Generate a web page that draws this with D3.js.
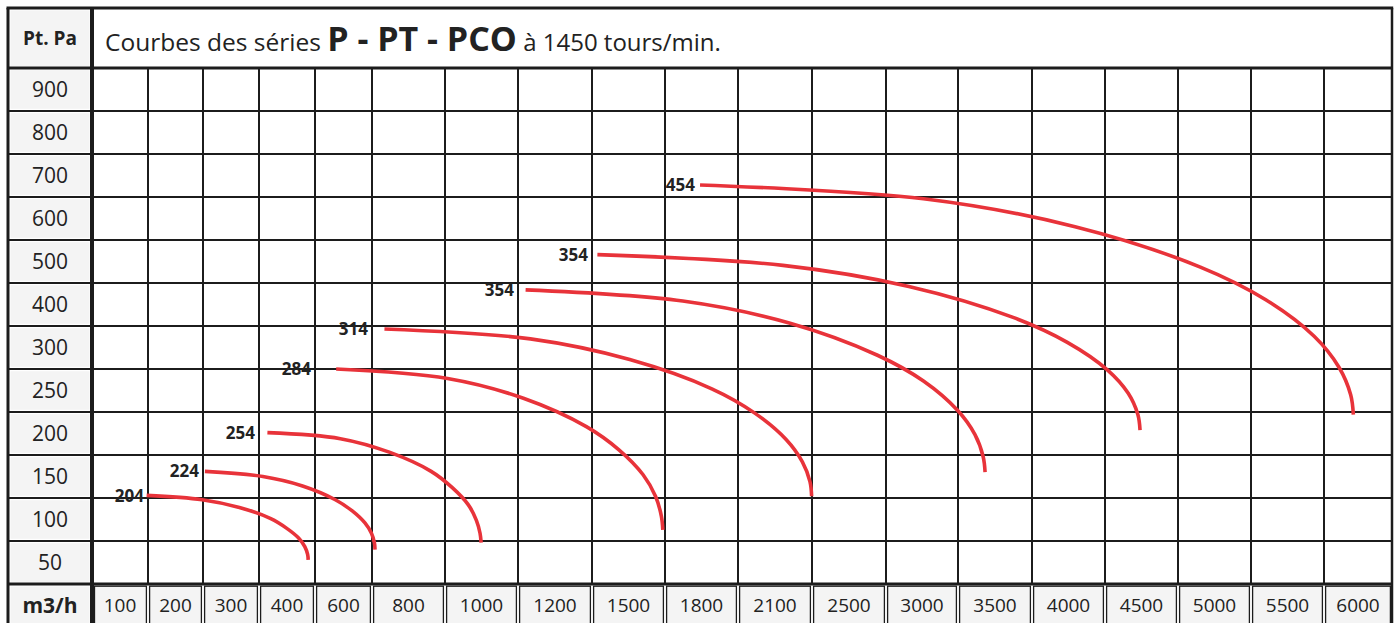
<!DOCTYPE html>
<html>
<head>
<meta charset="utf-8">
<script src="https://cdn.jsdelivr.net/npm/d3@7"></script>
<style>
  html, body { margin: 0; padding: 0; background: #ffffff; }
  svg { display: block; font-family: "Open Sans", "Noto Sans", sans-serif; }
</style>
</head>
<body>
<script>
// ---------- data ----------
const flowTicks = [100, 200, 300, 400, 600, 800, 1000, 1200, 1500, 1800, 2100, 2500, 3000, 3500, 4000, 4500, 5000, 5500, 6000];
const pressureTicks = [900, 800, 700, 600, 500, 400, 300, 250, 200, 150, 100, 50];
const seriesNames = ["204", "224", "254", "284", "314", "354", "354", "454"];

// each curve: [flow m3/h, pressure Pa]
const curve204 = [[148,128],[248,123],[315,114],[371,101],[399,90],[441,78.5],[463,68.5],[473,59.4],[475,53]];
const curve224 = [[253,156],[357,150],[455,139],[571,123],[627,110],[666,96],[686,84],[695,73],[697,65]];
const curve254 = [[365,201],[589,194],[743,178],[862,156],[920,137],[964,117],[986,99],[996,84],[999,73]];
const curve284 = [[574,275],[907,264],[1114,241],[1328,208],[1461,181],[1560,152],[1611,127],[1635,104],[1641,88]];
const curve314 = [[726,343],[1133,320],[1505,286],[1842,252],[2016,224],[2160,193],[2248,167],[2289,144],[2298,127]];
const curve354a = [[1120,434],[1723,408],[2177,357],[2695,291],[3010,261],[3243,227],[3362,199],[3419,173],[3432,155]];
const curve354b = [[1373,516],[2143,491],[2910,442],[3623,370],[3992,312],[4266,274],[4408,247],[4475,222],[4490,204]];
const curve454 = [[1794,678],[3010,646],[4045,581],[4903,487],[5351,411],[5689,326],[5865,277],[5948,245],[5967,222]];
const curves = [curve204, curve224, curve254, curve284, curve314, curve354a, curve354b, curve454];

// ---------- layout ----------
const W = 1398, H = 623;
const L = 8, LC = 92, T = 8, HB = 68, ROW_H = 43, R = 1392;
const colWidths = [56,55,56,56,57,73,73,74,73,73,74,74,72,74,73,73,73,73,68];
const GB = HB + ROW_H * pressureTicks.length;   // grid bottom
const LINE = "#1c1c1c", CELL = "#f4f4f4", RED = "#e8333a", TXT = "#222222";

const edges = [LC];
colWidths.forEach(w => edges.push(edges[edges.length - 1] + w));
const centers = colWidths.map((w, i) => edges[i] + w / 2);
const rowCenters = pressureTicks.map((d, i) => HB + ROW_H * (i + 0.5));

const x = d3.scaleLinear().domain(flowTicks).range(centers);
const y = d3.scaleLinear().domain(pressureTicks).range(rowCenters);

const svg = d3.select("body").append("svg").attr("width", W).attr("height", H);
svg.append("rect").attr("width", W).attr("height", H).attr("fill", "#fff");

// label column cells (header + value rows + bottom)
svg.append("rect").attr("x", L + 2.5).attr("y", T + 2.5).attr("width", LC - L - 5).attr("height", HB - T - 4.5).attr("fill", CELL);
svg.selectAll("rect.ycell").data(pressureTicks).join("rect").attr("class", "ycell")
  .attr("x", L + 2.5).attr("y", (d, i) => HB + ROW_H * i + 2.2)
  .attr("width", LC - L - 5).attr("height", ROW_H - 4.4).attr("fill", CELL);
svg.append("rect").attr("x", L + 2.5).attr("y", GB + 2.5).attr("width", LC - L - 5).attr("height", H - GB).attr("fill", CELL);

// bottom row cells (double separators)
svg.selectAll("rect.xcell").data(flowTicks).join("rect").attr("class", "xcell")
  .attr("x", (d, i) => edges[i] + (i === 0 ? 2.5 : 1.6))
  .attr("y", GB + 2.2)
  .attr("width", (d, i) => colWidths[i] - (i === 0 ? 4.1 : 3.2))
  .attr("height", H - GB)
  .attr("fill", CELL).attr("stroke", LINE).attr("stroke-width", 1.3);

// grid: vertical lines
const g = svg.append("g").attr("stroke", LINE).attr("fill", "none");
g.selectAll("line.v").data(edges.slice(1, -1)).join("line").attr("class", "v")
  .attr("x1", d => d).attr("x2", d => d).attr("y1", HB).attr("y2", GB).attr("stroke-width", 2);
// horizontal lines
g.selectAll("line.h").data(d3.range(1, pressureTicks.length)).join("line").attr("class", "h")
  .attr("x1", L).attr("x2", R).attr("y1", d => HB + ROW_H * d).attr("y2", d => HB + ROW_H * d).attr("stroke-width", 2);
// heavier structure lines
g.append("line").attr("x1", L).attr("x2", R).attr("y1", HB).attr("y2", HB).attr("stroke-width", 3);
g.append("line").attr("x1", L).attr("x2", R).attr("y1", GB).attr("y2", GB).attr("stroke-width", 3);
g.append("line").attr("x1", L - 1.5).attr("x2", R + 1.2).attr("y1", T).attr("y2", T).attr("stroke-width", 3);
g.append("line").attr("x1", L).attr("x2", L).attr("y1", T).attr("y2", H).attr("stroke-width", 3);
g.append("line").attr("x1", LC).attr("x2", LC).attr("y1", T).attr("y2", H).attr("stroke-width", 4);
g.append("line").attr("x1", R).attr("x2", R).attr("y1", T).attr("y2", H).attr("stroke-width", 2.5);

// curves
const line = d3.line().x(d => x(d[0])).y(d => y(d[1])).curve(d3.curveCatmullRom.alpha(0.5));
svg.append("g").selectAll("path").data(curves).join("path")
  .attr("d", line).attr("fill", "none").attr("stroke", RED).attr("stroke-width", 3.6);

// curve labels
function labelX(c) {
  const sx = x(c[0][0]);
  const e = edges.filter(v => v >= sx - 30 && v <= sx + 3);
  return e.length ? e[e.length - 1] - 4 : sx - 5;
}
svg.append("g").selectAll("text").data(curves).join("text")
  .attr("x", c => labelX(c)).attr("y", c => y(c[0][1])).attr("dy", "0.36em")
  .attr("text-anchor", "end").attr("font-weight", "bold").attr("font-size", 17).attr("fill", TXT)
  .text((c, i) => seriesNames[i]);

// y labels
svg.append("g").selectAll("text").data(pressureTicks).join("text")
  .attr("x", (L + LC) / 2).attr("y", d => y(d)).attr("dy", "0.36em")
  .attr("text-anchor", "middle").attr("font-size", 21).attr("fill", TXT).text(d => d);

// x labels
const xLabelY = (GB + H) / 2 + 2;
svg.append("g").selectAll("text").data(flowTicks).join("text")
  .attr("x", d => x(d)).attr("y", xLabelY).attr("dy", "0.36em")
  .attr("text-anchor", "middle").attr("font-size", 19).attr("fill", TXT).text(d => d);

svg.append("text").attr("x", (L + LC) / 2).attr("y", xLabelY).attr("dy", "0.36em")
  .attr("text-anchor", "middle").attr("font-weight", "bold").attr("font-size", 21).attr("fill", TXT).text("m3/h");

svg.append("text").attr("x", (L + LC) / 2).attr("y", (T + HB) / 2).attr("dy", "0.36em")
  .attr("text-anchor", "middle").attr("font-weight", "bold").attr("font-size", 19).attr("fill", TXT).text("Pt. Pa");

// title
const title = svg.append("text").attr("x", 105).attr("y", 51).attr("fill", TXT);
title.append("tspan").attr("font-size", 24.5).text("Courbes des séries ");
title.append("tspan").attr("font-size", 34).attr("font-weight", "bold").text("P - PT - PCO");
title.append("tspan").attr("font-size", 24).text(" à 1450 tours/min.");
</script>
</body>
</html>
